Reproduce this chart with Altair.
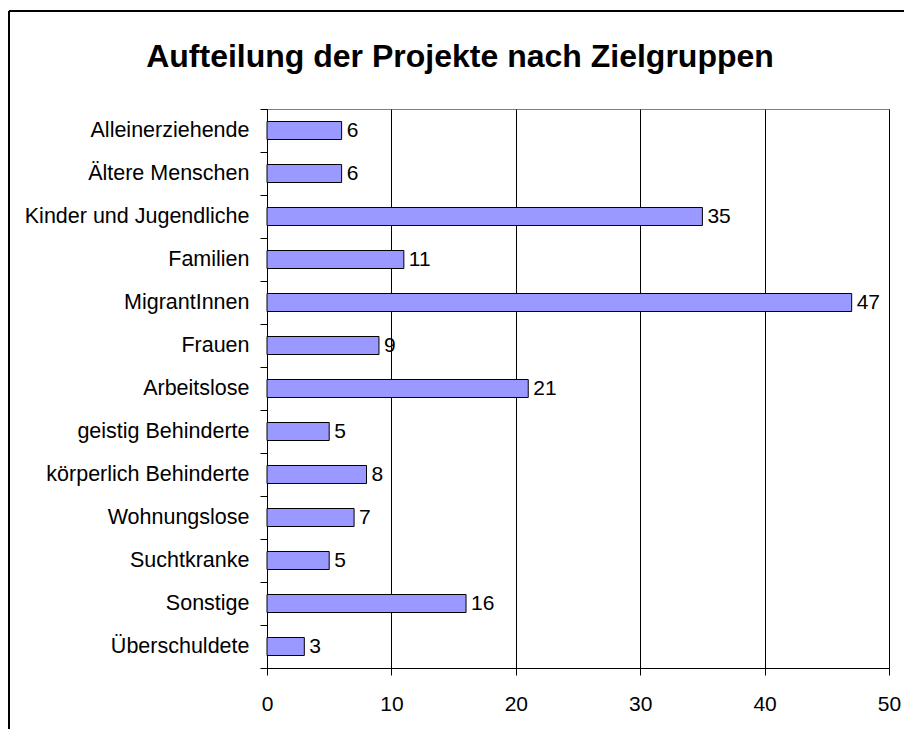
import altair as alt
import pandas as pd

categories = ["Alleinerziehende", "Ältere Menschen", "Kinder und Jugendliche", "Familien",
              "MigrantInnen", "Frauen", "Arbeitslose", "geistig Behinderte",
              "körperlich Behinderte", "Wohnungslose", "Suchtkranke", "Sonstige", "Überschuldete"]
values = [6, 6, 35, 11, 47, 9, 21, 5, 8, 7, 5, 16, 3]
x_ticks = [0, 10, 20, 30, 40, 50]
title_text = "Aufteilung der Projekte nach Zielgruppen"

df = pd.DataFrame({"Zielgruppe": categories, "Anzahl": values})
FONT = "Liberation Sans"

W, H = 622, 559
PAD = {"left": 259, "top": 101, "right": 15, "bottom": 61}

y_enc = alt.Y("Zielgruppe:N", sort=categories, title=None,
              scale=alt.Scale(paddingInner=0, paddingOuter=0),
              axis=alt.Axis(tickBand="extent", tickSize=7, tickColor="black",
                            domainColor="black", labelFont=FONT, labelFontSize=21.5,
                            labelColor="black", labelPadding=11, grid=False,
                            labelLimit=400))
x_enc = alt.X("Anzahl:Q", title=None, scale=alt.Scale(domain=[0, 50], nice=False),
              axis=alt.Axis(values=x_ticks, grid=True, gridColor="black", gridWidth=1,
                            tickSize=7, tickColor="black", domainColor="black",
                            labelFont=FONT, labelFontSize=21, labelColor="black",
                            labelPadding=18, labelFlush=False))

base = alt.Chart(df)
bars = base.mark_bar(size=18, color="#9999FF", stroke="black", strokeWidth=1).encode(
    x=x_enc, y=y_enc)
labels = base.mark_text(align="left", baseline="middle", dx=5, font=FONT, fontSize=21,
                        color="black").encode(
    x="Anzahl:Q", y=alt.Y("Zielgruppe:N", sort=categories), text="Anzahl:Q")

one = pd.DataFrame({"k": [0]})
border_top = alt.Chart(one).mark_rule(color="black", strokeWidth=2).encode(
    x=alt.value(-258), x2=alt.value(W + 15), y=alt.value(-98))
border_left = alt.Chart(one).mark_rule(color="black", strokeWidth=2).encode(
    x=alt.value(-258), y=alt.value(-98), y2=alt.value(H + 61))
title = alt.Chart(one).mark_text(
    text=title_text, font=FONT, fontSize=32, fontWeight="bold", color="black",
    align="center", baseline="alphabetic").encode(
    x=alt.value(193), y=alt.value(-42))

chart = alt.layer(border_top, border_left, bars, labels, title).properties(
    width=W, height=H,
    padding=PAD,
    autosize=alt.AutoSizeParams(type="none"),
).configure_view(stroke="#808080")

chart.save("out.html", embed_options={"renderer": "svg", "actions": False})
